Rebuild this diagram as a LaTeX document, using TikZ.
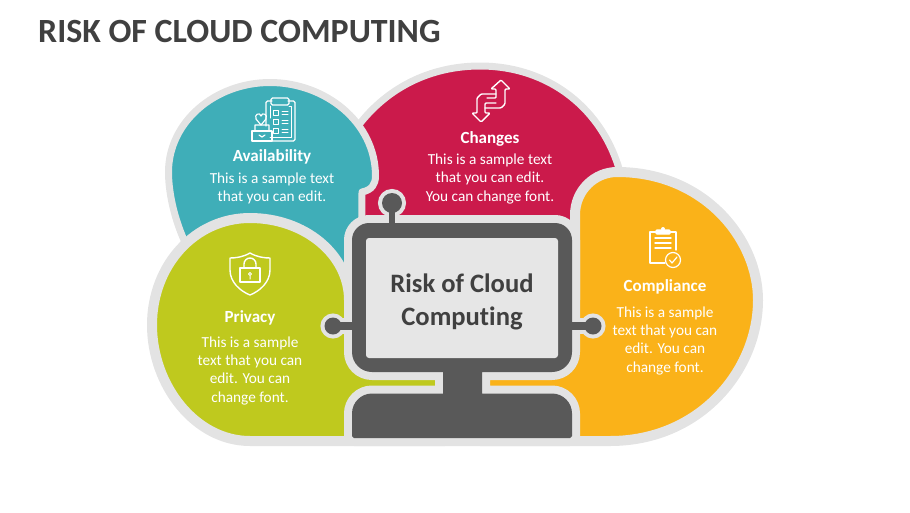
\documentclass[tikz,border=0pt]{standalone}
\usepackage{fontspec}
\setmainfont{Carlito}[Ligatures=NoCommon]
\usetikzlibrary{positioning}
\definecolor{ringgray}{HTML}{E3E3E3}
\definecolor{darkgray}{HTML}{595959}
\definecolor{screengray}{HTML}{E6E6E6}
\definecolor{titlegray}{HTML}{404040}
\definecolor{tealpetal}{HTML}{3FAEB8}
\definecolor{redpetal}{HTML}{CB1A4B}
\definecolor{yellowpetal}{HTML}{FAB219}
\definecolor{greenpetal}{HTML}{BFC91E}
\tikzset{
  petal/.style={draw=ringgray, line width=10pt, line join=round},
  thinpetal/.style={petal, line width=7pt},
  ringed/.style={draw=ringgray, fill=ringgray, line width=16pt, line join=round},
  knobring/.style={draw=ringgray, fill=ringgray, line width=8pt},
  dark/.style={fill=darkgray, draw=none},
  headtext/.style={text=white, inner sep=0pt, font=\fontsize{17}{18}\selectfont\bfseries},
  bodytext/.style={text=white, inner sep=0pt, align=center, font=\fontsize{15.3}{18.3}\selectfont},
  icon/.style={draw=white, line width=1.4pt, line join=round, line cap=round}
}
% monitor body, used for both the ring and the dark fill
\newcommand{\framepath}{(352,240) arc[start angle=180, end angle=270, radius=17] -- (555,223) arc[start angle=-90, end angle=0, radius=17] -- (572,352) arc[start angle=0, end angle=90, radius=20] -- (482,372) -- (482,393.5) -- (552,393.5) arc[start angle=-90, end angle=0, radius=20] -- (572,436) -- (570,438) -- (354,438) -- (352,436) -- (352,413.5) arc[start angle=180, end angle=270, radius=20] -- (443,393.5) -- (443,372) -- (372,372) arc[start angle=90, end angle=180, radius=20] -- cycle}
\newcommand{\knobs}[1]{%
  \path[#1] (392,203) circle[radius=10];
  \path[#1] (389,203) rectangle (395,225);
  \path[#1] (333,326) circle[radius=8.5];
  \path[#1] (333,322) rectangle (354,330);
  \path[#1] (593,326) circle[radius=8.5];
  \path[#1] (570,322) rectangle (593,330);
}
\begin{document}
\begin{tikzpicture}[x=1pt,y=-1pt]
  \useasboundingbox (0,0) rectangle (910,512);
  \node[anchor=west, inner sep=0pt, text=titlegray, font=\fontsize{33.9}{38}\selectfont\bfseries] (title) at (38,32) {RISK OF CLOUD COMPUTING};

  % the four petals, back to front
  \path[thinpetal, fill=redpetal] (355,130) .. controls (385,88) and (430,66) .. (480,66) .. controls (550,66) and (603,110) .. (620,172) -- (620,260) -- (355,260) -- cycle;
  \path[thinpetal, fill=tealpetal] (184,240) .. controls (173,215) and (168.5,190) .. (168.5,172) .. controls (168.5,122) and (215,82.5) .. (270,82.5) .. controls (325,82.5) and (375.5,122) .. (375.5,176) .. controls (375.5,184) and (372,190) .. (362,192) -- (361.5,300) -- (184,300) -- cycle;
  \path[petal, fill=yellowpetal] (480,441) -- (610,441) .. controls (700,441) and (758,370) .. (758,300) .. controls (758,240) and (705,172) .. (617,172) .. controls (595,172) and (575,190) .. (575,215) -- (575,300) -- (480,300) -- cycle;
  \path[petal, fill=greenpetal] (445,441) -- (250,441) .. controls (195,441) and (152,385) .. (152,325) .. controls (152,265) and (195,218) .. (250,218) .. controls (305,218) and (349,255) .. (349,300) -- (445,300) -- cycle;

  % monitor
  \path[ringed] \framepath;
  \knobs{knobring}
  \path[dark] \framepath;
  \knobs{dark}
  \fill[screengray, rounded corners=3pt] (366,238) rectangle (558,358);
  \node[text=titlegray, inner sep=0pt, align=center, font=\fontsize{26.6}{33}\selectfont\bfseries] (screentext) at (462,302) {Risk of Cloud\\Computing};

  % labels
  \node[headtext] (availability) at (272,157) {Availability};
  \node[bodytext, below=8pt of availability] (availabilitytext) {This is a sample text\\that you can edit.};
  \node[headtext] (changes) at (490,139) {Changes};
  \node[bodytext, below=7pt of changes] (changestext) {This is a sample text\\that you can edit.\\You can change font.};
  \node[headtext] (privacy) at (250,318) {Privacy};
  \node[bodytext, below=11pt of privacy] (privacytext) {This is a sample\\text that you can\\edit. You can\\change font.};
  \node[headtext] (compliance) at (665,287) {Compliance};
  \node[bodytext, below=12pt of compliance] (compliancetext) {This is a sample\\text that you can\\edit. You can\\change font.};

  % availability icon
  \draw[icon, rounded corners=1.5pt] (272,101) -- (266,101) -- (266,126) (266,141) -- (295,141) -- (295,101) -- (288,101);
  \draw[icon, rounded corners=1.5pt] (271,105) rectangle (289,98);
  \draw[icon, line width=1pt] (270,106) -- (270,118) (270,137.5) -- (291,137.5) -- (291,106) -- (289,106);
  \foreach \boxy in {110,119,128} {
    \draw[icon, line width=1pt] (273,\boxy) rectangle (278,\boxy+5);
    \draw[icon, line width=1pt] (282,\boxy+1) -- (288,\boxy+1) (282,\boxy+4) -- (288,\boxy+4);
  }
  \draw[icon, line width=1.2pt] (252,131) rectangle (272,141);
  \draw[icon, line width=1.2pt] (255,131) -- (255,125) -- (269,125) -- (269,131) (259,135) -- (262,137) -- (265,135);
  \draw[icon, line width=1.2pt] (261,125) -- (256,119) .. controls (254,114) and (260,112) .. (261,116) .. controls (262,112) and (268,114) .. (266,119) -- cycle;

  % changes icon
  \draw[icon, rounded corners=1pt] (485,108) -- (501,108) -- (505,104) -- (505,89) -- (510,89) -- (501,80) -- (491,89) -- (496,89) -- (496,98) -- (487,98);
  \draw[icon, rounded corners=1pt] (496,94) -- (481,94) -- (477,98) -- (477,113) -- (472,113) -- (481,122) -- (490,113) -- (485,113) -- (485,103) -- (496,103);

  % privacy icon
  \draw[icon] (250,253) .. controls (243,257) and (236,258) .. (230,258) -- (230,270) .. controls (230,282) and (240,291) .. (250,295) .. controls (260,291) and (270,282) .. (270,270) -- (270,258) .. controls (264,258) and (257,257) .. (250,253) -- cycle;
  \draw[icon] (240,268) rectangle (260,282);
  \draw[icon] (244,268) -- (244,264) arc[start angle=180, end angle=360, radius=6] -- (256,268);
  \draw[icon, line width=1pt] (250,274) circle[radius=1.5] (250,276) -- (250,279);

  % compliance icon
  \draw[icon] (665,263) -- (650,263) -- (650,232) -- (676,232) -- (676,250);
  \draw[icon, fill=white, rounded corners=1pt] (656,234) rectangle (670,230);
  \fill[white] (663,229) circle[radius=2];
  \draw[icon] (655,238) -- (671,238) (655,243) -- (671,243) (655,248) -- (671,248);
  \draw[icon, line width=1.2pt] (673,260) circle[radius=7.5];
  \draw[icon, line width=1.2pt] (669.5,260) -- (672,263) -- (677,257);
\end{tikzpicture}
\end{document}
